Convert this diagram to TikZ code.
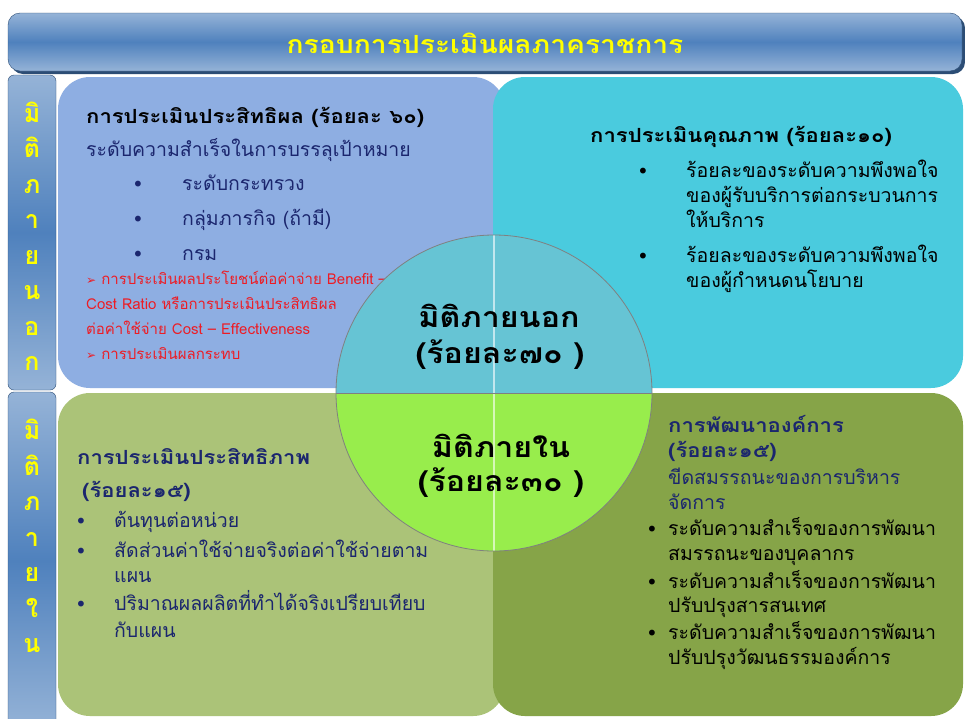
\documentclass[tikz,border=0pt]{standalone}
\usepackage{fontspec}
\usepackage{tikz}
\newfontfamily\thaifont[Script=Thai]{Loma}
\newfontfamily\thaiwide[Script=Thai,FakeStretch=1.13]{Loma}
\newfontfamily\symfont{DejaVu Sans}
\definecolor{barlight}{RGB}{149,179,215}
\definecolor{bardark}{RGB}{79,129,189}
\definecolor{baredge}{RGB}{44,77,117}
\definecolor{tlfill}{RGB}{142,174,226}
\definecolor{trfill}{RGB}{74,203,222}
\definecolor{blfill}{RGB}{171,195,120}
\definecolor{brfill}{RGB}{134,164,72}
\definecolor{cirtop}{RGB}{102,196,212}
\definecolor{cirbot}{RGB}{152,237,76}
\definecolor{navy}{RGB}{27,38,110}
\definecolor{redtxt}{RGB}{237,28,36}
\definecolor{sideyellow}{RGB}{255,255,0}

\begin{document}
\begin{tikzpicture}[x=1pt,y=1pt]
\tikzstyle{every node}+=[inner sep=0pt]
\tikzstyle{bluebar}=[top color=barlight, bottom color=barlight, middle color=bardark, draw=baredge]
\tikzstyle{quad}=[rounded corners=32pt]
\tikzstyle{txt}=[anchor=base west, font=\thaifont\fontsize{19.5}{22}\selectfont]
\tikzstyle{head}=[anchor=base west, font=\thaiwide\bfseries\fontsize{19.5}{22}\selectfont]
\tikzstyle{redline}=[anchor=base west, text=redtxt, font=\thaifont\fontsize{15}{18}\selectfont]
\tikzstyle{dot}=[anchor=base west, font=\symfont\fontsize{20}{22}\selectfont]
\tikzstyle{ctxt}=[anchor=base, font=\thaiwide\bfseries\fontsize{28.5}{32}\selectfont]
\tikzstyle{side}=[align=center, text=sideyellow, font=\thaifont\bfseries\fontsize{25}{35.5}\selectfont]
\useasboundingbox (0,0) rectangle (965,-718);
\fill [white] (0,0) rectangle (965,-718);
\fill [baredge, rounded corners=12pt] (11,-16) rectangle (965,-74);
\shade [bluebar, rounded corners=12pt] (8,-13) rectangle (962,-71);
\draw (485,-53) node [anchor=base, text=sideyellow, font=\thaiwide\bfseries\fontsize{25}{28}\selectfont] (title) {กรอบการประเมินผลภาคราชการ};
\shade [bluebar, rounded corners=6pt] (8,-75) rectangle (56,-390);
\shade [bluebar, rounded corners=6pt] (8,-392) rectangle (56,-730);
\node [side] (sideout) at (32,-236) {มิ\\ติ\\ภ\\า\\ย\\น\\อ\\ก};
\node [side] (sidein) at (32,-536) {มิ\\ติ\\ภ\\า\\ย\\ใ\\น};
\fill [tlfill, quad] (58,-77) rectangle (505,-388);
\fill [trfill, quad] (493,-77) rectangle (963,-388);
\fill [blfill, quad] (58,-393) rectangle (505,-716);
\fill [brfill, quad] (493,-393) rectangle (963,-716);
\draw (86,-123) node [head] (tlhead) {การประเมินประสิทธิผล (ร้อยละ ๖๐)};
\draw (86,-156) node [txt, text=navy] (tlsub) {ระดับความสำเร็จในการบรรลุเป้าหมาย};
\draw (132,-191) node [dot, text=navy] (tldota) {•};
\draw (182,-190) node [txt, text=navy] (tlitema) {ระดับกระทรวง};
\draw (132,-226) node [dot, text=navy] (tldotb) {•};
\draw (182,-225) node [txt, text=navy] (tlitemb) {กลุ่มภารกิจ (ถ้ามี)};
\draw (132,-261) node [dot, text=navy] (tldotc) {•};
\draw (182,-260) node [txt, text=navy] (tlitemc) {กรม};
\draw (86,-284) node [redline] (tlreda) {{\symfont\fontsize{12}{14}\selectfont ➢} การประเมินผลประโยชน์ต่อค่าจ่าย Benefit –};
\draw (86,-309) node [redline] (tlredb) {Cost Ratio หรือการประเมินประสิทธิผล};
\draw (86,-334) node [redline] (tlredc) {ต่อค่าใช้จ่าย Cost – Effectiveness};
\draw (86,-359) node [redline] (tlredd) {{\symfont\fontsize{12}{14}\selectfont ➢} การประเมินผลกระทบ};
\draw (590,-142) node [head] (trhead) {การประเมินคุณภาพ (ร้อยละ๑๐)};
\draw (637,-178) node [dot] (trdota) {•};
\draw (686,-177) node [txt] (tritema) {ร้อยละของระดับความพึงพอใจ};
\draw (686,-202) node [txt] (tritemb) {ของผู้รับบริการต่อกระบวนการ};
\draw (686,-227) node [txt] (tritemc) {ให้บริการ};
\draw (637,-263) node [dot] (trdotb) {•};
\draw (686,-262) node [txt] (tritemd) {ร้อยละของระดับความพึงพอใจ};
\draw (686,-287) node [txt] (triteme) {ของผู้กำหนดนโยบาย};
\draw (77,-464) node [head, text=navy] (blhead) {การประเมินประสิทธิภาพ};
\draw (82,-497) node [head, text=navy] (blpct) {(ร้อยละ๑๕)};
\draw (75,-528) node [dot, text=navy] (bldota) {•};
\draw (114,-527) node [txt, text=navy] (blitema) {ต้นทุนต่อหน่วย};
\draw (75,-558) node [dot, text=navy] (bldotb) {•};
\draw (114,-557) node [txt, text=navy] (blitemb) {สัดส่วนค่าใช้จ่ายจริงต่อค่าใช้จ่ายตาม};
\draw (114,-582) node [txt, text=navy] (blitemc) {แผน};
\draw (75,-611) node [dot, text=navy] (bldotc) {•};
\draw (114,-610) node [txt, text=navy] (blitemd) {ปริมาณผลผลิตที่ทำได้จริงเปรียบเทียบ};
\draw (114,-637) node [txt, text=navy] (bliteme) {กับแผน};
\draw (668,-432) node [head, text=navy] (brhead) {การพัฒนาองค์การ};
\draw (668,-457) node [head, text=navy] (brpct) {(ร้อยละ๑๕)};
\draw (668,-484) node [txt, text=navy] (brsuba) {ขีดสมรรถนะของการบริหาร};
\draw (668,-509) node [txt, text=navy] (brsubb) {จัดการ};
\draw (646,-536) node [dot] (brdota) {•};
\draw (668,-535) node [txt] (britema) {ระดับความสำเร็จของการพัฒนา};
\draw (668,-560) node [txt] (britemb) {สมรรถนะของบุคลากร};
\draw (646,-589) node [dot] (brdotb) {•};
\draw (668,-588) node [txt] (britemc) {ระดับความสำเร็จของการพัฒนา};
\draw (668,-612) node [txt] (britemd) {ปรับปรุงสารสนเทศ};
\draw (646,-640) node [dot] (brdotc) {•};
\draw (668,-639) node [txt] (briteme) {ระดับความสำเร็จของการพัฒนา};
\draw (668,-664) node [txt] (britemf) {ปรับปรุงวัฒนธรรมองค์การ};
\fill [cirtop] (336,-393) arc (180:0:158) -- cycle;
\fill [cirbot] (336,-393) arc (180:360:158) -- cycle;
\draw [white!60!cirtop, line width=1.2pt] (494,-235) -- (494,-393);
\draw [white!60!cirbot, line width=1.2pt] (494,-393) -- (494,-551);
\draw [gray, line width=0.8pt] (336,-393) -- (652,-393);
\draw [gray, line width=0.8pt] (494,-393) circle (158);
\draw (499,-327) node [ctxt] (outname) {มิติภายนอก};
\draw (500,-363) node [ctxt] (outpct) {(ร้อยละ๗๐ )};
\draw (501,-457) node [ctxt] (inname) {มิติภายใน};
\draw (501,-491) node [ctxt] (inpct) {(ร้อยละ๓๐ )};
\end{tikzpicture}
\end{document}
